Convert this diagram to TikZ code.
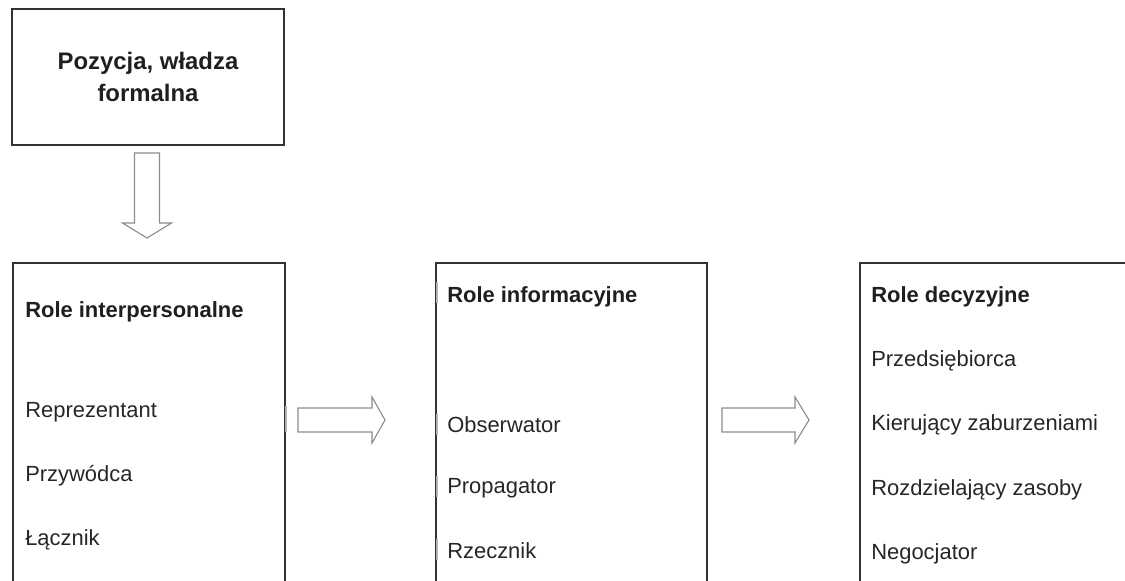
\documentclass[tikz,border=0pt]{standalone}
\usepackage{fontspec}
\setmainfont{Liberation Sans}
\usetikzlibrary{positioning}

\begin{document}
\begin{tikzpicture}[x=0.025cm, y=-0.025cm,
  box/.style={draw=black!80, line width=1.3pt, rectangle, inner sep=0pt},
  head/.style={anchor=base west, inner sep=0pt, font=\fontsize{15.6}{18}\selectfont\bfseries, text=black!88},
  item/.style={anchor=base west, inner sep=0pt, font=\fontsize{15.6}{18}\selectfont, text=black!85},
  hollow/.style={draw=black!45, line width=0.8pt, fill=white, line join=miter},
  tick/.style={draw=black!30, line width=1.2pt}]

\useasboundingbox (0,0) rectangle (1125,580);
\clip (0,0) rectangle (1125,580);

% pozycja, wladza formalna
\node[box, minimum width=6.8cm, minimum height=3.4cm, align=center,
  font=\fontsize{17}{23}\selectfont\bfseries, text=black!88] (pos) at (148,77) {Pozycja, władza\\formalna};

% trzy grupy rol (dol uciety)
\node[box, anchor=north west, minimum width=6.8cm, minimum height=9cm] (inter) at (12,262) {};
\node[box, anchor=north west, minimum width=6.775cm, minimum height=9cm] (info) at (435,262) {};
\node[box, anchor=north west, minimum width=8cm, minimum height=9cm] (dec) at (859,262) {};

% strzalka w dol
\coordinate (down) at (147,153);
\draw[hollow] (down) ++(-12.5,0) -- ++(25,0) -- ++(0,70) -- ++(12,0) -- ++(-24.5,15)
  -- ++(-24.5,-15) -- ++(12,0) -- cycle;
% strzalki w prawo
\coordinate (right1) at (298,420);
\draw[hollow] (right1) ++(0,-12) -- ++(74,0) -- ++(0,-11) -- ++(13,23) -- ++(-13,23)
  -- ++(0,-11) -- ++(-74,0) -- cycle;
\coordinate (right2) at (722,420);
\draw[hollow] (right2) ++(0,-12) -- ++(73,0) -- ++(0,-11) -- ++(14,23) -- ++(-14,23)
  -- ++(0,-11) -- ++(-73,0) -- cycle;

% slady ramek tekstu
\draw[tick] (286,406) -- (286,432);
\draw[tick] (437,282) -- (437,303);
\draw[tick] (437,414) -- (437,435);
\draw[tick] (437,476) -- (437,497);
\draw[tick] (437,539) -- (437,560);

% role interpersonalne
\node[head] (interH) at (25,317) {Role interpersonalne};
\node[item] (inter1) at (25,417) {Reprezentant};
\node[item] (inter2) at (25,481) {Przywódca};
\node[item] (inter3) at (25,545) {Łącznik};

% role informacyjne
\node[head] (infoH) at (447,302) {Role informacyjne};
\node[item] (info1) at (447,432) {Obserwator};
\node[item] (info2) at (447,493) {Propagator};
\node[item] (info3) at (447,558) {Rzecznik};

% role decyzyjne
\node[head] (decH) at (871,302) {Role decyzyjne};
\node[item] (dec1) at (871,366) {Przedsiębiorca};
\node[item] (dec2) at (871,430) {Kierujący zaburzeniami};
\node[item] (dec3) at (871,495) {Rozdzielający zasoby};
\node[item] (dec4) at (871,559) {Negocjator};

\end{tikzpicture}
\end{document}
